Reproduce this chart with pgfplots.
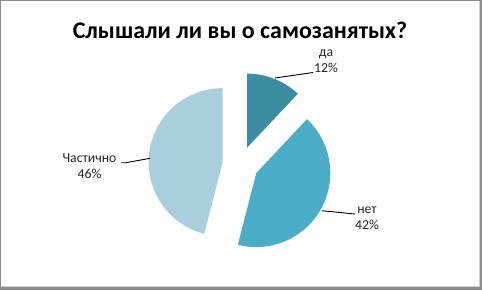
\documentclass[border=0pt]{standalone}
\usepackage{pgfplots}
\pgfplotsset{compat=1.18}
\usepackage{pgfplotstable}
\usepackage{fontspec}
\setmainfont{Carlito}
\definecolor{cda}{HTML}{3C8CA2}
\definecolor{cnet}{HTML}{4BACC6}
\definecolor{cchast}{HTML}{AACFDC}
\definecolor{lbl}{HTML}{262626}
\definecolor{frame}{HTML}{8C8C8C}

\pgfplotstableread[col sep=comma]{
label,value
да,12
нет,42
Частично,46
}\piedata

\begin{document}
\begin{tikzpicture}
\pgfplotstablegetelem{0}{value}\of\piedata \pgfmathsetmacro\vA{\pgfplotsretval}
\pgfplotstablegetelem{1}{value}\of\piedata \pgfmathsetmacro\vB{\pgfplotsretval}
\pgfplotstablegetelem{2}{value}\of\piedata \pgfmathsetmacro\vC{\pgfplotsretval}
\def\cx{240.5}\def\cy{125.6}\def\r{74}\def\d{18}
\pgfmathsetmacro\aS{90}
\pgfmathsetmacro\aA{\aS-3.6*\vA}
\pgfmathsetmacro\aB{\aA-3.6*\vB}
\pgfmathsetmacro\aC{\aB-3.6*\vC}
\pgfmathsetmacro\mA{(\aS+\aA)/2}
\pgfmathsetmacro\mB{(\aA+\aB)/2}
\pgfmathsetmacro\mC{(\aB+\aC)/2}
\pgfmathsetmacro\xA{\cx+\d*cos(\mA)}\pgfmathsetmacro\yA{\cy+\d*sin(\mA)}
\pgfmathsetmacro\xB{\cx+\d*cos(\mB)}\pgfmathsetmacro\yB{\cy+\d*sin(\mB)}
\pgfmathsetmacro\xC{\cx+\d*cos(\mC)}\pgfmathsetmacro\yC{\cy+\d*sin(\mC)}
\begin{axis}[
  x=1bp, y=1bp, xmin=0, xmax=482, ymin=0, ymax=290,
  hide axis, clip=false, scale only axis,
]
% frame
\fill[frame] (axis cs:0,0) rectangle (axis cs:482,290);
\fill[gray!35] (axis cs:1,3) rectangle (axis cs:479.5,289);
\fill[white] (axis cs:1,3.8) rectangle (axis cs:478.6,289);
% slices
\addplot[fill=cda, draw=none, domain=\aA:\aS, samples=40, variable=\t]
  ({\xA+\r*cos(\t)},{\yA+\r*sin(\t)}) -- (axis cs:\xA,\yA) -- cycle;
\addplot[fill=cnet, draw=none, domain=\aB:\aA, samples=90, variable=\t]
  ({\xB+\r*cos(\t)},{\yB+\r*sin(\t)}) -- (axis cs:\xB,\yB) -- cycle;
\addplot[fill=cchast, draw=none, domain=\aC:\aB, samples=90, variable=\t]
  ({\xC+\r*cos(\t)},{\yC+\r*sin(\t)}) -- (axis cs:\xC,\yC) -- cycle;
% leader lines
\addplot[black, line width=0.9bp] coordinates {(275,212) (313,217.5)};
\addplot[black, line width=0.9bp] coordinates {(121,127.3) (126,127.3) (150,131.7)};
\addplot[black, line width=0.9bp] coordinates {(321.7,79.3) (355,76)};
% labels
\node[font=\fontsize{24}{28}\selectfont\bfseries, text=black] at (axis cs:240,260) {Слышали ли вы о самозанятых?};
\node[font=\fontsize{13.8}{16}\selectfont, text=lbl, align=center] at (axis cs:326,229) {да\\12\%};
\node[font=\fontsize{13.8}{16}\selectfont, text=lbl, align=center] at (axis cs:89.5,124) {Частично\\46\%};
\node[font=\fontsize{13.8}{16}\selectfont, text=lbl, align=center] at (axis cs:367,72) {нет\\42\%};
\end{axis}
\end{tikzpicture}
\end{document}
